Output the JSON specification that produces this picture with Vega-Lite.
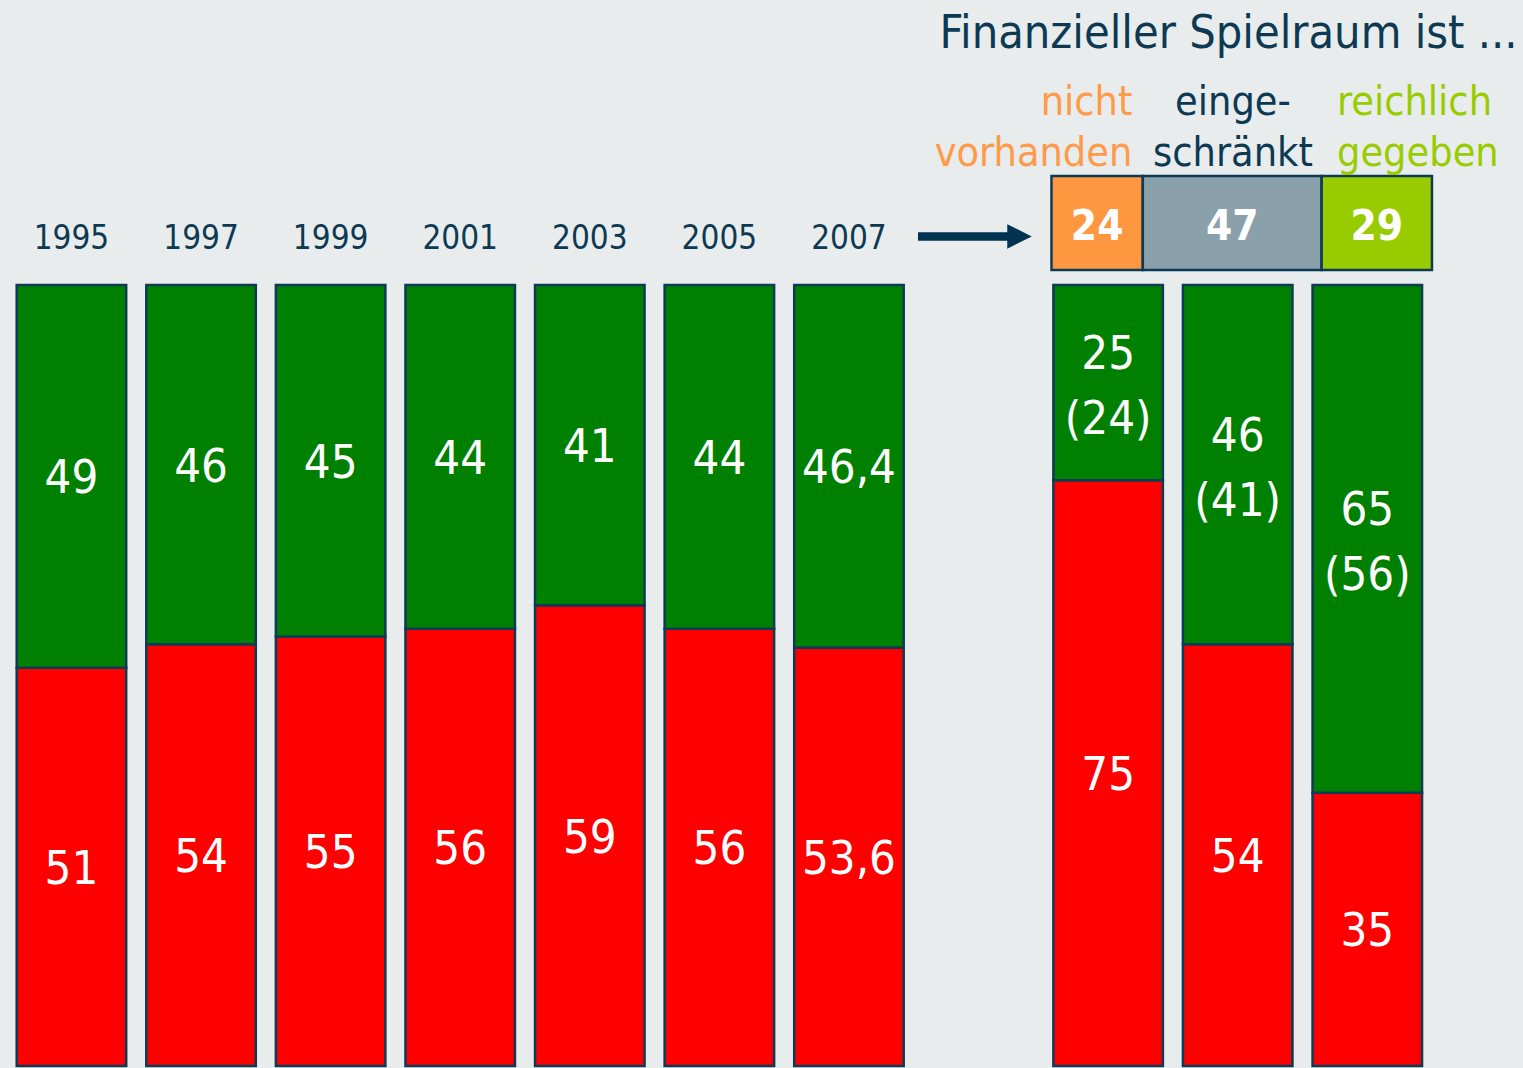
{
  "$schema": "https://vega.github.io/schema/vega-lite/v6.json",
  "width": 1523,
  "height": 1068,
  "padding": 0,
  "autosize": {"type": "none"},
  "background": "#e8eced",
  "config": {"view": {"stroke": null}, "font": "DejaVu Sans Condensed, DejaVu Sans, sans-serif"},
  "datasets": {
    "bars": [
      {"cat": "1995", "segment": "rot", "value": 51, "label": "51", "prev": ""},
      {"cat": "1995", "segment": "grün", "value": 49, "label": "49", "prev": ""},
      {"cat": "1997", "segment": "rot", "value": 54, "label": "54", "prev": ""},
      {"cat": "1997", "segment": "grün", "value": 46, "label": "46", "prev": ""},
      {"cat": "1999", "segment": "rot", "value": 55, "label": "55", "prev": ""},
      {"cat": "1999", "segment": "grün", "value": 45, "label": "45", "prev": ""},
      {"cat": "2001", "segment": "rot", "value": 56, "label": "56", "prev": ""},
      {"cat": "2001", "segment": "grün", "value": 44, "label": "44", "prev": ""},
      {"cat": "2003", "segment": "rot", "value": 59, "label": "59", "prev": ""},
      {"cat": "2003", "segment": "grün", "value": 41, "label": "41", "prev": ""},
      {"cat": "2005", "segment": "rot", "value": 56, "label": "56", "prev": ""},
      {"cat": "2005", "segment": "grün", "value": 44, "label": "44", "prev": ""},
      {"cat": "2007", "segment": "rot", "value": 53.6, "label": "53,6", "prev": ""},
      {"cat": "2007", "segment": "grün", "value": 46.4, "label": "46,4", "prev": ""},
      {"cat": "nicht vorhanden", "segment": "rot", "value": 75, "label": "75", "prev": ""},
      {"cat": "nicht vorhanden", "segment": "grün", "value": 25, "label": "25", "prev": "(24)"},
      {"cat": "eingeschränkt", "segment": "rot", "value": 54, "label": "54", "prev": ""},
      {"cat": "eingeschränkt", "segment": "grün", "value": 46, "label": "46", "prev": "(41)"},
      {"cat": "reichlich gegeben", "segment": "rot", "value": 35, "label": "35", "prev": ""},
      {"cat": "reichlich gegeben", "segment": "grün", "value": 65, "label": "65", "prev": "(56)"}
    ],
    "header": [
      {"cat": "nicht vorhanden", "rank": 1, "value": 24, "label": "nicht\nvorhanden"},
      {"cat": "eingeschränkt", "rank": 2, "value": 47, "label": "einge-\nschränkt"},
      {"cat": "reichlich gegeben", "rank": 3, "value": 29, "label": "reichlich\ngegeben"}
    ],
    "title": [{"title": "Finanzieller Spielraum ist ..."}]
  },
  "layer": [
    {
      "data": {"name": "bars"},
      "encoding": {
        "x": {
          "field": "cat", "type": "nominal", "axis": null, "sort": null,
          "scale": {
            "domain": ["1995", "1997", "1999", "2001", "2003", "2005", "2007", "gap", "nicht vorhanden", "eingeschränkt", "reichlich gegeben"],
            "paddingInner": 0.155, "paddingOuter": 0.454, "align": 0.142, "round": false
          }
        },
        "y": {"field": "value", "type": "quantitative", "stack": "zero", "axis": null, "scale": {"domain": [-0.26, 136.5], "nice": false, "zero": false}},
        "order": {"field": "segment", "type": "nominal", "sort": "descending"},
        "detail": {"field": "segment", "type": "nominal"}
      },
      "layer": [
        {
          "mark": {"type": "bar", "stroke": "#0d3a55", "strokeWidth": 2.5},
          "encoding": {
            "color": {"field": "segment", "type": "nominal", "legend": null, "scale": {"domain": ["rot", "grün"], "range": ["#ff0000", "#008000"]}}
          }
        },
        {
          "mark": {"type": "text", "color": "white", "fontSize": 47, "baseline": "middle", "align": "center", "dy": 3},
          "encoding": {
            "y": {"field": "value", "type": "quantitative", "stack": "zero", "bandPosition": 0.5, "axis": null, "scale": {"domain": [-0.26, 136.5], "nice": false, "zero": false}},
            "text": {"condition": {"test": "datum.prev != ''", "value": ""}, "field": "label", "type": "nominal"}
          }
        },
        {
          "mark": {"type": "text", "color": "white", "fontSize": 47, "baseline": "middle", "align": "center", "dy": -28},
          "encoding": {
            "y": {"field": "value", "type": "quantitative", "stack": "zero", "bandPosition": 0.5, "axis": null, "scale": {"domain": [-0.26, 136.5], "nice": false, "zero": false}},
            "text": {"condition": {"test": "datum.prev == ''", "value": ""}, "field": "label", "type": "nominal"}
          }
        },
        {
          "mark": {"type": "text", "color": "white", "fontSize": 47, "baseline": "middle", "align": "center", "dy": 37},
          "encoding": {
            "y": {"field": "value", "type": "quantitative", "stack": "zero", "bandPosition": 0.5, "axis": null, "scale": {"domain": [-0.26, 136.5], "nice": false, "zero": false}},
            "text": {"field": "prev", "type": "nominal"}
          }
        },
        {
          "transform": [
            {"filter": {"field": "segment", "equal": "rot"}},
            {"filter": {"field": "cat", "oneOf": ["1995", "1997", "1999", "2001", "2003", "2005", "2007"]}}
          ],
          "mark": {"type": "text", "color": "#0d3a52", "fontSize": 33, "baseline": "middle", "align": "center"},
          "encoding": {
            "y": {"datum": 105.9, "type": "quantitative", "axis": null, "scale": {"domain": [-0.26, 136.5], "nice": false, "zero": false}},
            "order": null,
            "detail": null,
            "text": {"field": "cat", "type": "nominal"}
          }
        }
      ]
    },
    {
      "data": {"name": "header"},
      "layer": [
        {
          "transform": [{"stack": "value", "groupby": [], "sort": [{"field": "rank", "order": "ascending"}], "as": ["x0", "x1"]}],
          "mark": {"type": "rect", "stroke": "#0d3a55", "strokeWidth": 2.5},
          "encoding": {
            "x": {"field": "x0", "type": "quantitative", "axis": null, "scale": {"domain": [-276.35, 123.92], "nice": false, "zero": false}},
            "x2": {"field": "x1"},
            "y": {"datum": 101.93, "type": "quantitative", "axis": null, "scale": {"domain": [-0.26, 136.5], "nice": false, "zero": false}},
            "y2": {"datum": 113.96},
            "color": {"field": "cat", "type": "nominal", "legend": null, "scale": {"domain": ["nicht vorhanden", "eingeschränkt", "reichlich gegeben"], "range": ["#ff9640", "#8aa0aa", "#99cc00"]}}
          }
        },
        {
          "mark": {"type": "text", "color": "white", "fontSize": 42, "fontWeight": "bold", "baseline": "middle", "align": "center"},
          "encoding": {
            "x": {"field": "value", "type": "quantitative", "stack": "zero", "bandPosition": 0.5, "axis": null, "scale": {"domain": [-276.35, 123.92], "nice": false, "zero": false}},
            "order": {"field": "rank", "type": "quantitative"},
            "detail": {"field": "cat", "type": "nominal"},
            "y": {"datum": 107.43, "type": "quantitative", "axis": null, "scale": {"domain": [-0.26, 136.5], "nice": false, "zero": false}},
            "text": {"field": "value", "type": "quantitative"}
          }
        },
        {
          "transform": [{"filter": {"field": "cat", "equal": "nicht vorhanden"}}],
          "mark": {"type": "text", "color": "#ff9a48", "fontSize": 41, "baseline": "alphabetic", "align": "right", "lineBreak": "\n", "lineHeight": 50.5},
          "encoding": {
            "x": {"datum": 21.26, "type": "quantitative", "axis": null, "scale": {"domain": [-276.35, 123.92], "nice": false, "zero": false}},
            "y": {"datum": 121.77, "type": "quantitative", "axis": null, "scale": {"domain": [-0.26, 136.5], "nice": false, "zero": false}},
            "text": {"field": "label", "type": "nominal"}
          }
        },
        {
          "transform": [{"filter": {"field": "cat", "equal": "eingeschränkt"}}],
          "mark": {"type": "text", "color": "#0d3a52", "fontSize": 41, "baseline": "alphabetic", "align": "center", "lineBreak": "\n", "lineHeight": 50.5},
          "encoding": {
            "x": {"datum": 47.7, "type": "quantitative", "axis": null, "scale": {"domain": [-276.35, 123.92], "nice": false, "zero": false}},
            "y": {"datum": 121.77, "type": "quantitative", "axis": null, "scale": {"domain": [-0.26, 136.5], "nice": false, "zero": false}},
            "text": {"field": "label", "type": "nominal"}
          }
        },
        {
          "transform": [{"filter": {"field": "cat", "equal": "reichlich gegeben"}}],
          "mark": {"type": "text", "color": "#99cc00", "fontSize": 41, "baseline": "alphabetic", "align": "left", "lineBreak": "\n", "lineHeight": 50.5},
          "encoding": {
            "x": {"datum": 75.03, "type": "quantitative", "axis": null, "scale": {"domain": [-276.35, 123.92], "nice": false, "zero": false}},
            "y": {"datum": 121.77, "type": "quantitative", "axis": null, "scale": {"domain": [-0.26, 136.5], "nice": false, "zero": false}},
            "text": {"field": "label", "type": "nominal"}
          }
        }
      ]
    },
    {
      "data": {"name": "title"},
      "layer": [
        {
          "mark": {"type": "text", "color": "#0d3a52", "fontSize": 46.5, "baseline": "alphabetic", "align": "center"},
          "encoding": {
            "x": {"datum": 46.52, "type": "quantitative", "axis": null, "scale": {"domain": [-276.35, 123.92], "nice": false, "zero": false}},
            "y": {"datum": 130.4, "type": "quantitative", "axis": null, "scale": {"domain": [-0.26, 136.5], "nice": false, "zero": false}},
            "text": {"field": "title", "type": "nominal"}
          }
        },
        {
          "mark": {"type": "rule", "color": "#003350", "strokeWidth": 8.4},
          "encoding": {
            "x": {"datum": -35.09, "type": "quantitative", "axis": null, "scale": {"domain": [-276.35, 123.92], "nice": false, "zero": false}},
            "x2": {"datum": -10.9},
            "y": {"datum": 106.22, "type": "quantitative", "axis": null, "scale": {"domain": [-0.26, 136.5], "nice": false, "zero": false}}
          }
        },
        {
          "mark": {"type": "point", "shape": "M-1,-1L1,0L-1,1Z", "filled": true, "size": 600, "opacity": 1, "color": "#003350", "strokeWidth": 0},
          "encoding": {
            "x": {"datum": -8.41, "type": "quantitative", "axis": null, "scale": {"domain": [-276.35, 123.92], "nice": false, "zero": false}},
            "y": {"datum": 106.22, "type": "quantitative", "axis": null, "scale": {"domain": [-0.26, 136.5], "nice": false, "zero": false}}
          }
        }
      ]
    }
  ],
  "resolve": {"scale": {"x": "independent", "color": "independent"}}
}
